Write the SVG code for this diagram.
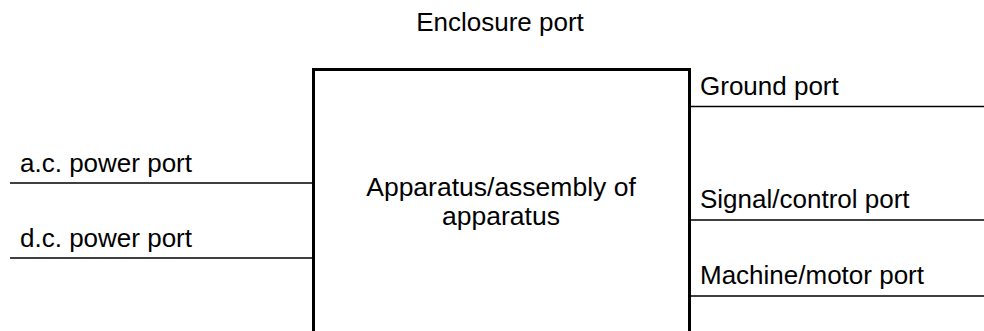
<svg xmlns="http://www.w3.org/2000/svg" width="984" height="331" viewBox="0 0 984 331">
<style>
text{font-family:"Liberation Sans",Arial,sans-serif;font-size:26px;fill:#000}
.c{text-anchor:middle}
.ln{stroke:#000;stroke-width:1.5;fill:none}
.box{stroke:#000;stroke-width:3;fill:none}
</style>
<rect width="984" height="331" fill="#fff"/>
<g id="enclosure"><text class="c" x="500" y="31">Enclosure port</text></g>
<g id="apparatus">
<path class="box" d="M313.5,335 V69.5 H689.5 V335"/>
<text class="c" x="501" y="196" style="font-size:26.5px">Apparatus/assembly of</text>
<text class="c" x="501" y="225" style="font-size:26.5px">apparatus</text>
</g>
<g id="connectors">
<line class="ln" x1="10" y1="183" x2="313" y2="183"/>
<line class="ln" x1="10" y1="258" x2="313" y2="258"/>
<line class="ln" x1="690" y1="106.5" x2="984" y2="106.5"/>
<line class="ln" x1="690" y1="220" x2="984" y2="220"/>
<line class="ln" x1="690" y1="296" x2="984" y2="296"/>
</g>
<g id="ac"><text x="20" y="172">a.c. power port</text></g>
<g id="dc"><text x="20" y="247">d.c. power port</text></g>
<g id="ground"><text x="700" y="95">Ground port</text></g>
<g id="signal"><text x="700" y="208">Signal/control port</text></g>
<g id="machine"><text x="700" y="284">Machine/motor port</text></g>
</svg>
